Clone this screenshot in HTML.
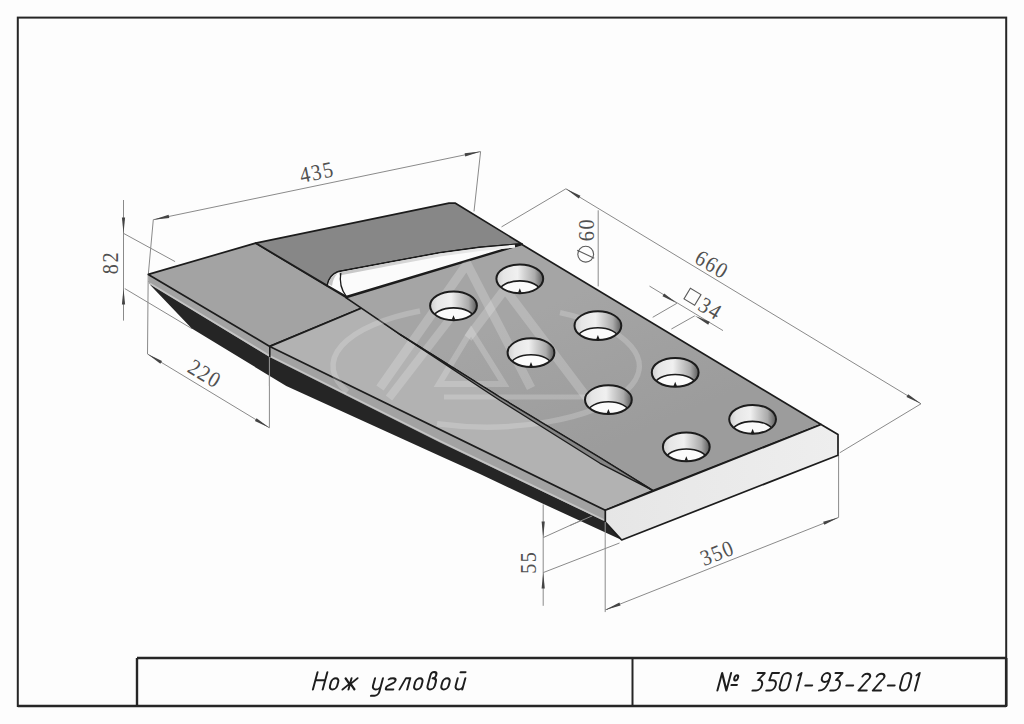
<!DOCTYPE html>
<html><head><meta charset="utf-8">
<style>
html,body{margin:0;padding:0;background:#fdfdfd;width:1024px;height:724px;overflow:hidden}
svg{position:absolute;left:0;top:0}
</style></head>
<body>
<svg width="1024" height="724" viewBox="0 0 1024 724">
<defs>
  <linearGradient id="wall" x1="0" y1="0" x2="1" y2="0">
    <stop offset="0" stop-color="#cfcfcf"/>
    <stop offset="0.15" stop-color="#e6e6e6"/>
    <stop offset="0.45" stop-color="#f0f0f0"/>
    <stop offset="0.58" stop-color="#d6d6d6"/>
    <stop offset="0.82" stop-color="#ababab"/>
    <stop offset="1" stop-color="#5a5a5a"/>
  </linearGradient>
  <linearGradient id="groove" gradientUnits="userSpaceOnUse" x1="0" y1="262" x2="0" y2="292">
    <stop offset="0" stop-color="#cfcfcf"/>
    <stop offset="0.4" stop-color="#f3f3f3"/>
    <stop offset="1" stop-color="#ffffff"/>
  </linearGradient>
  <linearGradient id="holeplate" gradientUnits="userSpaceOnUse" x1="560" y1="300" x2="620" y2="440">
    <stop offset="0" stop-color="#a5a5a5"/>
    <stop offset="1" stop-color="#9c9c9c"/>
  </linearGradient>
  <linearGradient id="grooveshade" gradientUnits="userSpaceOnUse" x1="339" y1="0" x2="515" y2="0">
    <stop offset="0" stop-color="#c4c4c4"/>
    <stop offset="0.5" stop-color="#dcdcdc"/>
    <stop offset="1" stop-color="#f4f4f4"/>
  </linearGradient>
  <linearGradient id="chamfer" gradientUnits="userSpaceOnUse" x1="605" y1="0" x2="838" y2="0">
    <stop offset="0" stop-color="#e6e6e6"/>
    <stop offset="1" stop-color="#eeeeee"/>
  </linearGradient>
</defs>

<g fill="none" stroke="#262626">
  <rect x="17.8" y="17.6" width="988.4" height="688.4" stroke-width="2"/>
  <line x1="137" y1="658" x2="1006" y2="658" stroke-width="2.4"/>
  <line x1="137" y1="658" x2="137" y2="706" stroke-width="2.4"/>
  <line x1="632.5" y1="658" x2="632.5" y2="706" stroke-width="2"/>
  <line x1="1006.2" y1="658" x2="1006.2" y2="706" stroke-width="2.6"/>
  <line x1="17.8" y1="706" x2="1006" y2="706" stroke-width="2.4"/>
</g>

<g fill="none" stroke="#8a8a8a" stroke-width="1">
<line x1="123.5" y1="200" x2="123.5" y2="320.6"/>
<line x1="123.8" y1="233.5" x2="175.1" y2="261.6"/>
<line x1="124.8" y1="288.6" x2="191.8" y2="328.6"/>
<line x1="153.3" y1="219.7" x2="480.6" y2="151.6"/>
<line x1="153.3" y1="219.7" x2="148.3" y2="274.4"/>
<line x1="148.2" y1="274.4" x2="147.5" y2="354"/>
<line x1="480.6" y1="151.6" x2="474" y2="211.4"/>
<line x1="147.5" y1="354" x2="269.4" y2="427.8"/>
<line x1="269.4" y1="357" x2="269.4" y2="427.8"/>
<line x1="565.9" y1="188.8" x2="921" y2="403.8"/>
<line x1="565.9" y1="188.8" x2="501.5" y2="226.9"/>
<line x1="921" y1="403.8" x2="839.7" y2="452.8"/>
<line x1="598.2" y1="210.3" x2="598.2" y2="286.4"/>
<line x1="649.5" y1="286.1" x2="723" y2="330.6"/>
<line x1="676.9" y1="303.3" x2="652.7" y2="317.3"/>
<line x1="694.8" y1="315.8" x2="671.4" y2="329"/>
<line x1="543.2" y1="504.4" x2="543.2" y2="605.8"/>
<line x1="543.2" y1="537.6" x2="590.8" y2="516"/>
<line x1="543.2" y1="572.6" x2="619.5" y2="543"/>
<line x1="605.1" y1="610" x2="838.6" y2="517.4"/>
<line x1="838.6" y1="455.2" x2="838.6" y2="517.4"/>
<line x1="605.2" y1="540" x2="605.2" y2="612.1"/>
</g>
<g>
<polygon fill="#444" points="153.30,219.70 169.29,218.01 168.64,214.87"/>
<polygon fill="#444" points="480.60,151.60 464.61,153.29 465.26,156.43"/>
<polygon fill="#444" points="147.50,354.00 160.36,363.66 162.02,360.92"/>
<polygon fill="#444" points="269.40,427.80 256.54,418.14 254.88,420.88"/>
<polygon fill="#444" points="565.90,188.80 578.76,198.46 580.42,195.72"/>
<polygon fill="#444" points="921.00,403.80 908.14,394.14 906.48,396.88"/>
<polygon fill="#444" points="605.10,610.00 620.56,605.59 619.38,602.61"/>
<polygon fill="#444" points="838.60,517.40 823.14,521.81 824.32,524.79"/>
<polygon fill="#444" points="676.90,303.30 664.20,293.44 662.50,296.15"/>
<polygon fill="#444" points="694.80,315.80 708.22,324.65 709.71,321.82"/>
<polygon fill="#444" points="123.50,233.50 125.10,217.50 121.90,217.50"/>
<polygon fill="#444" points="123.50,288.60 121.90,304.60 125.10,304.60"/>
<polygon fill="#444" points="543.20,537.60 544.80,521.60 541.60,521.60"/>
<polygon fill="#444" points="543.20,572.60 541.60,588.60 544.80,588.60"/>
</g>
<g stroke-linejoin="round">
<polygon fill="#252525" points="148.50,281.00 269.50,354.00 440.00,440.00 605.30,518.00 621.70,540.00 542.50,503.50 480.00,474.00 440.00,456.00 286.25,386.00 191.80,328.60 150.70,285.60"/>
<polygon fill="#a2a2a2" points="148.30,274.40 269.80,346.40 605.30,510.30 605.30,521.50 440.00,442.50 269.50,357.00 148.80,283.20"/>
<polyline fill="none" stroke="#c4c4c4" stroke-width="1.8" points="150.00,283.50 269.50,355.80 440.00,441.00 604.00,520.00"/>
<line x1="269.8" y1="346.4" x2="269.8" y2="357" stroke="#1c1c1c" stroke-width="1.6"/>
<polygon fill="#a3a3a3" stroke="#1c1c1c" stroke-width="1.7" points="148.30,274.40 255.60,243.10 363.00,307.50 269.80,346.40"/>
<polygon fill="#b2b2b2" stroke="#1c1c1c" stroke-width="1.7" points="363.00,307.50 400.00,334.40 500.00,397.30 653.10,490.60 605.30,510.30 269.80,346.40"/>
<polygon fill="#878787" stroke="#1c1c1c" stroke-width="1.7" points="255.60,243.10 449.00,203.20 455.00,203.00 521.90,243.90 480.00,247.40 440.00,252.80 390.00,262.00 337.70,271.80 327.10,285.50"/>
<polygon fill="url(#holeplate)" stroke="#1c1c1c" stroke-width="1.7" points="521.90,244.50 821.10,424.50 653.10,490.60 600.00,457.80 500.00,397.30 400.00,334.40 345.90,297.60"/>
</g>
<g fill="none" stroke="#ffffff" stroke-opacity="0.2" stroke-linejoin="miter">
  <path d="M420,311 A153,61 0 0 0 347.3,391.8" stroke-width="5.5"/>
  <path d="M437,423.8 A153,61 0 0 0 560,312.6" stroke-width="5.5"/>
  <polyline points="380,388 467,264 531,388" stroke-width="9"/>
  <line x1="389" y1="398" x2="463" y2="302" stroke-width="8"/>
  <polyline points="468,338 505,289 588,399" stroke-width="9"/>
  <polygon points="471,331 439,384 504,384" stroke-width="6"/>
  <line x1="444" y1="397" x2="592" y2="397" stroke-width="5"/>
</g>
<g stroke-linejoin="round">
<polygon fill="#858585" stroke="#1c1c1c" stroke-width="1.3" points="400.00,334.40 500.00,397.30 600.00,457.80 653.10,490.60 600.00,463.30 500.00,400.50"/>
<path fill="#fbfbfb" stroke="#1c1c1c" stroke-width="1.6" d="M327.1,285.5 Q329,275 337.7,271.8 L390,262 L440,252.8 L480,247.4 L521.9,243.9 L346.25,296.4 Z"/>
<polyline fill="none" stroke="url(#grooveshade)" stroke-width="3" points="339,274 390,264.2 440,255 480,249.4 515,246.2"/>
<path fill="#b8b8b8" d="M328.5,284 Q330,276.5 337.5,273.5 Q333,278 332,286 Z" opacity="0.8"/>
<path fill="none" stroke="#1c1c1c" stroke-width="1.3" d="M340.8,273 Q338.5,286 346.25,296.4"/>
<polygon fill="url(#chamfer)" stroke="#1c1c1c" stroke-width="1.7" points="605.30,510.30 821.10,424.50 838.00,434.50 838.00,455.20 621.70,540.00 605.30,522.00"/>
</g>
<line x1="605.2" y1="522" x2="605.2" y2="540" stroke="#9a9a9a" stroke-width="1"/>
<line x1="269.4" y1="357" x2="269.4" y2="386" stroke="#9a9a9a" stroke-width="1"/>
<line x1="570" y1="525.5" x2="592" y2="516" stroke="#8a8a8a" stroke-width="1"/>
<g>
<clipPath id="hc0"><ellipse cx="453.5" cy="305.8" rx="23.4" ry="14.4"/></clipPath>
<ellipse cx="453.5" cy="305.8" rx="23.4" ry="14.4" fill="url(#wall)"/>
<g clip-path="url(#hc0)"><ellipse cx="453.5" cy="318.40000000000003" rx="20.5" ry="10.5" fill="#fbfbfb" stroke="#1c1c1c" stroke-width="1.6"/></g>
<ellipse cx="453.5" cy="305.8" rx="23.4" ry="14.4" fill="none" stroke="#1c1c1c" stroke-width="2"/>
<path d="M451.7,319.7 L453.5,315.2 L455.3,319.7 Z" fill="#1c1c1c"/>
<clipPath id="hc1"><ellipse cx="519.8" cy="278.8" rx="23.4" ry="14.4"/></clipPath>
<ellipse cx="519.8" cy="278.8" rx="23.4" ry="14.4" fill="url(#wall)"/>
<g clip-path="url(#hc1)"><ellipse cx="519.8" cy="291.40000000000003" rx="20.5" ry="10.5" fill="#fbfbfb" stroke="#1c1c1c" stroke-width="1.6"/></g>
<ellipse cx="519.8" cy="278.8" rx="23.4" ry="14.4" fill="none" stroke="#1c1c1c" stroke-width="2"/>
<path d="M518.0,292.7 L519.8,288.2 L521.5999999999999,292.7 Z" fill="#1c1c1c"/>
<clipPath id="hc2"><ellipse cx="597.9" cy="325.7" rx="23.4" ry="14.4"/></clipPath>
<ellipse cx="597.9" cy="325.7" rx="23.4" ry="14.4" fill="url(#wall)"/>
<g clip-path="url(#hc2)"><ellipse cx="597.9" cy="338.3" rx="20.5" ry="10.5" fill="#fbfbfb" stroke="#1c1c1c" stroke-width="1.6"/></g>
<ellipse cx="597.9" cy="325.7" rx="23.4" ry="14.4" fill="none" stroke="#1c1c1c" stroke-width="2"/>
<path d="M596.1,339.59999999999997 L597.9,335.09999999999997 L599.6999999999999,339.59999999999997 Z" fill="#1c1c1c"/>
<clipPath id="hc3"><ellipse cx="531" cy="352.7" rx="23.4" ry="14.4"/></clipPath>
<ellipse cx="531" cy="352.7" rx="23.4" ry="14.4" fill="url(#wall)"/>
<g clip-path="url(#hc3)"><ellipse cx="531" cy="365.3" rx="20.5" ry="10.5" fill="#fbfbfb" stroke="#1c1c1c" stroke-width="1.6"/></g>
<ellipse cx="531" cy="352.7" rx="23.4" ry="14.4" fill="none" stroke="#1c1c1c" stroke-width="2"/>
<path d="M529.2,366.59999999999997 L531,362.09999999999997 L532.8,366.59999999999997 Z" fill="#1c1c1c"/>
<clipPath id="hc4"><ellipse cx="608.4" cy="399.7" rx="23.4" ry="14.4"/></clipPath>
<ellipse cx="608.4" cy="399.7" rx="23.4" ry="14.4" fill="url(#wall)"/>
<g clip-path="url(#hc4)"><ellipse cx="608.4" cy="412.3" rx="20.5" ry="10.5" fill="#fbfbfb" stroke="#1c1c1c" stroke-width="1.6"/></g>
<ellipse cx="608.4" cy="399.7" rx="23.4" ry="14.4" fill="none" stroke="#1c1c1c" stroke-width="2"/>
<path d="M606.6,413.59999999999997 L608.4,409.09999999999997 L610.1999999999999,413.59999999999997 Z" fill="#1c1c1c"/>
<clipPath id="hc5"><ellipse cx="675.2" cy="372.4" rx="23.4" ry="14.4"/></clipPath>
<ellipse cx="675.2" cy="372.4" rx="23.4" ry="14.4" fill="url(#wall)"/>
<g clip-path="url(#hc5)"><ellipse cx="675.2" cy="385.0" rx="20.5" ry="10.5" fill="#fbfbfb" stroke="#1c1c1c" stroke-width="1.6"/></g>
<ellipse cx="675.2" cy="372.4" rx="23.4" ry="14.4" fill="none" stroke="#1c1c1c" stroke-width="2"/>
<path d="M673.4000000000001,386.29999999999995 L675.2,381.79999999999995 L677.0,386.29999999999995 Z" fill="#1c1c1c"/>
<clipPath id="hc6"><ellipse cx="752.6" cy="419.3" rx="23.4" ry="14.4"/></clipPath>
<ellipse cx="752.6" cy="419.3" rx="23.4" ry="14.4" fill="url(#wall)"/>
<g clip-path="url(#hc6)"><ellipse cx="752.6" cy="431.90000000000003" rx="20.5" ry="10.5" fill="#fbfbfb" stroke="#1c1c1c" stroke-width="1.6"/></g>
<ellipse cx="752.6" cy="419.3" rx="23.4" ry="14.4" fill="none" stroke="#1c1c1c" stroke-width="2"/>
<path d="M750.8000000000001,433.2 L752.6,428.7 L754.4,433.2 Z" fill="#1c1c1c"/>
<clipPath id="hc7"><ellipse cx="686.3" cy="446.9" rx="23.4" ry="14.4"/></clipPath>
<ellipse cx="686.3" cy="446.9" rx="23.4" ry="14.4" fill="url(#wall)"/>
<g clip-path="url(#hc7)"><ellipse cx="686.3" cy="459.5" rx="20.5" ry="10.5" fill="#fbfbfb" stroke="#1c1c1c" stroke-width="1.6"/></g>
<ellipse cx="686.3" cy="446.9" rx="23.4" ry="14.4" fill="none" stroke="#1c1c1c" stroke-width="2"/>
<path d="M684.5,460.79999999999995 L686.3,456.29999999999995 L688.0999999999999,460.79999999999995 Z" fill="#1c1c1c"/>
</g>
<g style="font-family:'Liberation Serif',serif" fill="#505050" font-size="22.5" letter-spacing="1.6">
  <text transform="translate(318.5,179.5) rotate(-11.75) scale(0.9,1)" text-anchor="middle">435</text>
  <text transform="translate(117.6,262.6) rotate(-90) scale(0.9,1)" text-anchor="middle">82</text>
  <text transform="translate(201,380.2) rotate(31) scale(0.9,1)" text-anchor="middle">220</text>
  <text transform="translate(593.6,229.6) rotate(-90) scale(0.9,1)" text-anchor="middle">60</text>
  <text transform="translate(708.2,270.9) rotate(31) scale(0.9,1)" text-anchor="middle">660</text>
  <text transform="translate(706.7,315.1) rotate(31) scale(0.9,1)" text-anchor="middle">34</text>
  <text transform="translate(536.3,562.2) rotate(-90) scale(0.9,1)" text-anchor="middle">55</text>
  <text transform="translate(720.1,559.9) rotate(-21.6) scale(0.9,1)" text-anchor="middle">350</text>
</g>
<g fill="none" stroke="#5a5a5a" stroke-width="1.1">
  <circle cx="585.7" cy="254.2" r="7.9"/>
  <line x1="577.2" y1="250.2" x2="594.2" y2="258.2"/>
  <rect x="-6.2" y="-6.2" width="12.4" height="12.4" transform="translate(692.5,296.7) rotate(31)"/>
</g>
<g fill="none" stroke="#1e1e1e" stroke-width="2.0" stroke-linecap="round" stroke-linejoin="round">
<path transform="translate(312.9,689.5) skewX(-15)" d="M0,0 V-17.3 M9.8,0 V-17.3 M0,-9.2 H9.8"/>
<path transform="translate(329.0,689.5) skewX(-15)" d="M0,-3.8 V-7.5 A3.6,3.8 0 0 1 7.2,-7.5 V-3.8 A3.6,3.8 0 0 1 0,-3.8 Z"/>
<path transform="translate(342.5,689.5) skewX(-15)" d="M6,0 V-11.3 M0,-11.3 L5.4,-5.65 L0,0 M12,-11.3 L6.6,-5.65 L12,0"/>
<path transform="translate(372.0,689.5) skewX(-15)" d="M0,-11.3 V-3.8 A3.95,3.8 0 0 0 7.9,-3.8 M7.9,-11.3 V2.4 A3.6,3.8 0 0 1 4.3,6.2 H0.6"/>
<path transform="translate(385.5,689.5) skewX(-15)" d="M0.5,-10.2 Q1.5,-11.3 4.5,-11.3 Q7.6,-11.3 7.6,-8.8 Q7.6,-7.2 5,-5.8 L1.2,-3.6 Q0,-2.8 0,-1.6 Q0,0 2,0 H7.8"/>
<path transform="translate(399.5,689.5) skewX(-15)" d="M0,0 L3.4,-11.3 H7.7 V0"/>
<path transform="translate(413.2,689.5) skewX(-15)" d="M0,-3.8 V-7.5 A3.6,3.8 0 0 1 7.2,-7.5 V-3.8 A3.6,3.8 0 0 1 0,-3.8 Z"/>
<path transform="translate(426.6,689.5) skewX(-15)" d="M0,-3.8 V-14.5 A2.9,2.9 0 0 1 5.8,-14.5 Q5.8,-11.3 3,-11.3 Q7.2,-11.3 7.2,-7.5 V-3.8 A3.6,3.8 0 0 1 0,-3.8"/>
<path transform="translate(440.4,689.5) skewX(-15)" d="M0,-3.8 V-7.5 A3.6,3.8 0 0 1 7.2,-7.5 V-3.8 A3.6,3.8 0 0 1 0,-3.8 Z"/>
<path transform="translate(454.7,689.5) skewX(-15)" d="M0,-11.3 V-3.8 A3.8,3.8 0 0 0 7.6,-3.8 M7.6,-11.3 V0 M1.2,-17.2 H6.2"/>
<path transform="translate(717.4,690.5) skewX(-15)" d="M0,0 V-17.5 L9,0 V-17.5 M13.6,-12.7 A1.8,2.6 0 1 0 17.2,-12.7 A1.8,2.6 0 1 0 13.6,-12.7 Z M12.5,-5.6 H18"/>
<path transform="translate(752.5,690.5) skewX(-15)" d="M0.5,-17.5 H7.2 Q7.8,-17.5 7.4,-16.9 L3,-10.5 H3.8 A4.2,5.25 0 0 1 3.8,0 H0"/>
<path transform="translate(766.3,690.5) skewX(-15)" d="M8,-17.5 H1 L0.3,-10.3 H3.8 A4.2,5.15 0 0 1 3.8,0 H0"/>
<path transform="translate(778.6,690.5) skewX(-15)" d="M0,-4.3 V-13.2 A4.3,4.3 0 0 1 8.6,-13.2 V-4.3 A4.3,4.3 0 0 1 0,-4.3 Z"/>
<path transform="translate(796.8,690.5) skewX(-15)" d="M-2.5,-15.2 L0,-17.5 V0"/>
<path transform="translate(804.0,690.5) skewX(-15)" d="M0,-5 H6.8"/>
<path transform="translate(818.5,690.5) skewX(-15)" d="M8,-13 A4,4.5 0 1 0 0,-13 A4,4.5 0 1 0 8,-13 Q8,-4 5,-1.5 Q3.5,0 0.5,0"/>
<path transform="translate(830.3,690.5) skewX(-15)" d="M0.5,-17.5 H7.2 Q7.8,-17.5 7.4,-16.9 L3,-10.5 H3.8 A4.2,5.25 0 0 1 3.8,0 H0"/>
<path transform="translate(845.0,690.5) skewX(-15)" d="M0,-5 H6.8"/>
<path transform="translate(858.5,690.5) skewX(-15)" d="M0.2,-14 A4,3.7 0 0 1 8,-13.8 Q8,-11.5 5.5,-9 L0,0 H8.2"/>
<path transform="translate(872.8,690.5) skewX(-15)" d="M0.2,-14 A4,3.7 0 0 1 8,-13.8 Q8,-11.5 5.5,-9 L0,0 H8.2"/>
<path transform="translate(886.5,690.5) skewX(-15)" d="M0,-5 H6.8"/>
<path transform="translate(899.0,690.5) skewX(-15)" d="M0,-4.3 V-13.2 A4.3,4.3 0 0 1 8.6,-13.2 V-4.3 A4.3,4.3 0 0 1 0,-4.3 Z"/>
<path transform="translate(915.0,690.5) skewX(-15)" d="M-2.5,-15.2 L0,-17.5 V0"/>
</g>
</svg>
</body></html>
